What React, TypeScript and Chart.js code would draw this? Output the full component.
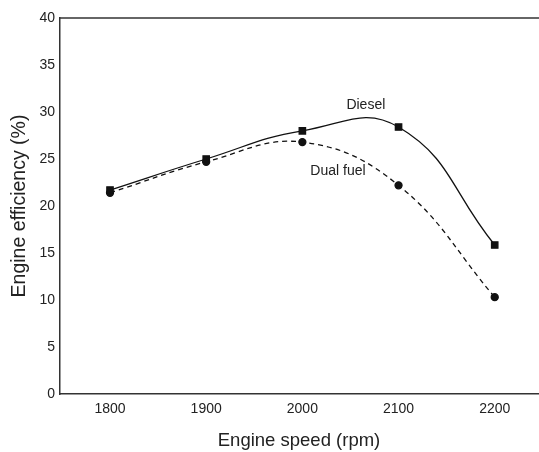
import React, { useEffect, useRef } from "react";
import { Chart, registerables } from "chart.js";

Chart.register(...registerables);

const speeds = [1800, 1900, 2000, 2100, 2200];
const dieselEff = [21.7, 25.0, 28.0, 28.4, 15.85];
const dualFuelEff = [21.4, 24.7, 26.8, 22.2, 10.3];
const xTicks = [1800, 1900, 2000, 2100, 2200];
const curveLabels = [
  { text: "Diesel", x: 2066, y: 30.7 },
  { text: "Dual fuel", x: 2037, y: 23.7 },
];

const FONT = "'Liberation Sans', Arial, sans-serif";

const annotate = {
  id: "annotate",
  afterDatasetsDraw(chart: any) {
    const { ctx, chartArea, scales } = chart;
    ctx.save();
    ctx.strokeStyle = "#333";
    ctx.lineWidth = 1.5;
    ctx.beginPath();
    ctx.moveTo(chartArea.left, chartArea.top);
    ctx.lineTo(chart.width, chartArea.top);
    ctx.stroke();
    ctx.fillStyle = "#222";
    ctx.font = `14px ${FONT}`;
    ctx.textAlign = "center";
    ctx.textBaseline = "middle";
    curveLabels.forEach((l) => {
      ctx.fillText(l.text, scales.x.getPixelForValue(l.x), scales.y.getPixelForValue(l.y));
    });
    ctx.restore();
  },
};

export default function App() {
  const ref = useRef<HTMLCanvasElement | null>(null);
  useEffect(() => {
    if (!ref.current) return;
    const chart = new Chart(ref.current, {
      type: "line",
      data: {
        datasets: [
          {
            label: "Diesel",
            data: speeds.map((s, i) => ({ x: s, y: dieselEff[i] })),
            borderColor: "#111",
            backgroundColor: "#111",
            borderWidth: 1.3,
            pointStyle: "rect",
            pointRadius: 4.5,
            tension: 0.45,
          },
          {
            label: "Dual fuel",
            data: speeds.map((s, i) => ({ x: s, y: dualFuelEff[i] })),
            borderColor: "#111",
            backgroundColor: "#111",
            borderWidth: 1.3,
            borderDash: [5, 4],
            pointStyle: "circle",
            pointRadius: 3.5,
            tension: 0.4,
          },
        ],
      },
      options: {
        responsive: false,
        animation: false,
        layout: { autoPadding: false, padding: { top: 18, right: 1, left: 0, bottom: 0 } },
        plugins: { legend: { display: false }, tooltip: { enabled: false } },
        scales: {
          x: {
            type: "linear",
            min: 1748,
            max: 2245,
            afterBuildTicks: (s: any) => {
              s.ticks = xTicks.map((v) => ({ value: v }));
            },
            afterFit: (s: any) => {
              s.height = 58;
              s.paddingRight = 0;
              s.paddingLeft = 0;
            },
            grid: { display: false, drawTicks: false },
            border: { display: true, color: "#333", width: 1.5 },
            ticks: {
              color: "#222",
              font: { family: FONT, size: 14 },
              padding: 7,
              callback: (v: any) => String(v),
            },
            title: {
              display: true,
              text: "Engine speed (rpm)",
              color: "#222",
              font: { family: FONT, size: 18.5 },
              padding: { top: 9, bottom: 0 },
            },
          },
          y: {
            min: 0,
            max: 40,
            ticks: { stepSize: 5, color: "#222", font: { family: FONT, size: 14 }, padding: 5 },
            afterFit: (s: any) => {
              s.width = 60;
            },
            grid: { display: false, drawTicks: false },
            border: { display: true, color: "#333", width: 1.5 },
            title: {
              display: true,
              text: "Engine efficiency (%)",
              color: "#222",
              font: { family: FONT, size: 19.5 },
              padding: { top: 8, bottom: 0 },
            },
          },
        },
      },
      plugins: [annotate],
    });
    return () => chart.destroy();
  }, []);
  return (
    <div style={{ position: "absolute", left: 0, top: 0, width: 539, height: 452, background: "#fff" }}>
      <canvas ref={ref} width={539} height={452} />
    </div>
  );
}
